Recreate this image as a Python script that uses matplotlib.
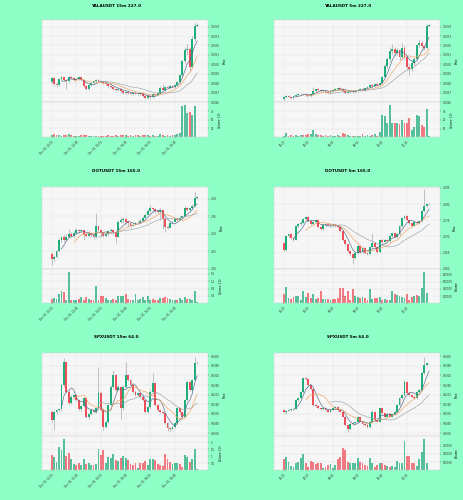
import numpy as np
import pandas as pd
import matplotlib
matplotlib.use('Agg')
import matplotlib.pyplot as plt
from matplotlib.ticker import MultipleLocator, FuncFormatter, FormatStrFormatter, MaxNLocator, FixedLocator

# ---------------- data ----------------
# YALAUSDT 15m
yala15_first_open = 0.00281
yala15_close = [0.00285, 0.00279, 0.00278, 0.00284, 0.00286, 0.00283, 0.00282, 0.00287, 0.00285, 0.00283,
                0.00284, 0.00286, 0.00283, 0.00277, 0.00274, 0.00278, 0.00280, 0.00282, 0.00283, 0.00282,
                0.00281, 0.00280, 0.00279, 0.00277, 0.00276, 0.00274, 0.00273, 0.00274, 0.00272, 0.00270,
                0.00271, 0.00270, 0.00268, 0.00270, 0.00269, 0.00268, 0.00270, 0.00266, 0.00264, 0.00266,
                0.00265, 0.00268, 0.00267, 0.00270, 0.00275, 0.00273, 0.00276, 0.00275, 0.00277, 0.00276,
                0.00278, 0.00281, 0.00289, 0.00303, 0.00315, 0.00316, 0.00297, 0.00327, 0.00341, 0.00342]
yala15_high = [0.00287, 0.00287, 0.00281, 0.00285, 0.00288, 0.00287, 0.00284, 0.00288, 0.00288, 0.00286,
               0.00285, 0.00287, 0.00287, 0.00284, 0.00278, 0.00279, 0.00281, 0.00283, 0.00284, 0.00284,
               0.00283, 0.00282, 0.00281, 0.00280, 0.00278, 0.00277, 0.00275, 0.00275, 0.00275, 0.00273,
               0.00272, 0.00272, 0.00271, 0.00271, 0.00271, 0.00270, 0.00271, 0.00271, 0.00267, 0.00267,
               0.00267, 0.00269, 0.00269, 0.00271, 0.00277, 0.00279, 0.00277, 0.00277, 0.00278, 0.00278,
               0.00279, 0.00282, 0.00290, 0.00305, 0.00318, 0.00322, 0.00318, 0.00330, 0.00344, 0.00344]
yala15_low = [0.00280, 0.00277, 0.00276, 0.00277, 0.00283, 0.00282, 0.00274, 0.00281, 0.00284, 0.00282,
              0.00282, 0.00283, 0.00282, 0.00276, 0.00273, 0.00273, 0.00277, 0.00279, 0.00281, 0.00281,
              0.00280, 0.00279, 0.00278, 0.00276, 0.00275, 0.00273, 0.00272, 0.00272, 0.00271, 0.00269,
              0.00269, 0.00268, 0.00267, 0.00267, 0.00268, 0.00267, 0.00267, 0.00265, 0.00263, 0.00263,
              0.00264, 0.00264, 0.00266, 0.00266, 0.00269, 0.00272, 0.00272, 0.00274, 0.00274, 0.00275,
              0.00275, 0.00277, 0.00280, 0.00288, 0.00301, 0.00310, 0.00292, 0.00296, 0.00325, 0.00340]
yala15_vol = [6.1e7, 8.4e7, 5.0e7, 7.2e7, 4.5e7, 6.8e7, 5.5e7, 9.0e7, 6.0e7, 4.2e7,
              3.8e7, 4.6e7, 5.1e7, 6.3e7, 5.8e7, 4.0e7, 3.5e7, 4.4e7, 3.9e7, 3.2e7,
              3.6e7, 4.1e7, 3.3e7, 4.8e7, 3.7e7, 4.5e7, 5.2e7, 3.4e7, 4.9e7, 5.6e7,
              6.2e7, 4.3e7, 5.0e7, 3.8e7, 4.7e7, 5.3e7, 4.0e7, 6.6e7, 7.4e7, 5.9e7,
              3.6e7, 6.8e7, 4.4e7, 3.9e7, 8.2e7, 5.5e7, 4.6e7, 6.0e7, 3.7e7, 5.1e7,
              6.4e7, 7.8e7, 1.2e8, 9.0e8, 9.2e8, 7.0e8, 7.2e8, 6.5e8, 9.0e8, 1.0e7]

# YALAUSDT 5m
yala5_first_open = 0.00263
yala5_close = [0.00265, 0.00266, 0.00265, 0.00264, 0.00266, 0.00267, 0.00268, 0.00269, 0.00268, 0.00267,
               0.00266, 0.00268, 0.00272, 0.00274, 0.00273, 0.00272, 0.00272, 0.00271, 0.00270, 0.00272,
               0.00273, 0.00274, 0.00275, 0.00274, 0.00272, 0.00270, 0.00271, 0.00272, 0.00271, 0.00272,
               0.00273, 0.00274, 0.00273, 0.00275, 0.00276, 0.00278, 0.00277, 0.00279, 0.00278, 0.00280,
               0.00287, 0.00298, 0.00306, 0.00314, 0.00316, 0.00312, 0.00315, 0.00308, 0.00317, 0.00308,
               0.00297, 0.00295, 0.00301, 0.00306, 0.00320, 0.00323, 0.00319, 0.00317, 0.00341, 0.00342]
yala5_high = [0.00266, 0.00267, 0.00267, 0.00266, 0.00267, 0.00268, 0.00269, 0.00270, 0.00270, 0.00269,
              0.00268, 0.00269, 0.00276, 0.00275, 0.00275, 0.00274, 0.00273, 0.00273, 0.00272, 0.00273,
              0.00274, 0.00275, 0.00276, 0.00276, 0.00275, 0.00273, 0.00272, 0.00273, 0.00273, 0.00273,
              0.00274, 0.00275, 0.00275, 0.00276, 0.00277, 0.00279, 0.00279, 0.00280, 0.00280, 0.00281,
              0.00288, 0.00300, 0.00308, 0.00318, 0.00322, 0.00318, 0.00317, 0.00316, 0.00323, 0.00319,
              0.00310, 0.00300, 0.00303, 0.00308, 0.00321, 0.00327, 0.00325, 0.00321, 0.00343, 0.00343]
yala5_low = [0.00262, 0.00264, 0.00264, 0.00263, 0.00263, 0.00265, 0.00266, 0.00267, 0.00267, 0.00266,
             0.00265, 0.00265, 0.00267, 0.00271, 0.00272, 0.00271, 0.00271, 0.00270, 0.00269, 0.00269,
             0.00271, 0.00272, 0.00273, 0.00273, 0.00271, 0.00269, 0.00269, 0.00270, 0.00270, 0.00270,
             0.00271, 0.00272, 0.00272, 0.00272, 0.00274, 0.00275, 0.00276, 0.00276, 0.00277, 0.00277,
             0.00279, 0.00285, 0.00296, 0.00304, 0.00311, 0.00309, 0.00310, 0.00305, 0.00306, 0.00306,
             0.00295, 0.00289, 0.00293, 0.00299, 0.00305, 0.00318, 0.00316, 0.00315, 0.00316, 0.00340]
yala5_vol = [2.0e7, 5.0e7, 1.5e7, 2.5e7, 1.2e7, 2.8e7, 1.8e7, 2.2e7, 3.0e7, 2.6e7,
             4.0e7, 3.5e7, 8.0e7, 3.8e7, 2.4e7, 3.1e7, 2.0e7, 2.7e7, 1.6e7, 2.3e7,
             1.4e7, 1.9e7, 2.1e7, 1.7e7, 4.5e7, 3.9e7, 2.9e7, 1.5e7, 1.3e7, 1.8e7,
             1.1e7, 2.0e7, 3.6e7, 1.6e7, 2.8e7, 1.9e7, 2.4e7, 3.3e7, 1.4e7, 6.0e7,
             2.6e8, 2.5e8, 1.7e8, 3.7e8, 1.7e8, 1.6e8, 1.6e8, 1.5e8, 2.0e8, 1.6e8,
             1.6e8, 2.2e8, 0.8e8, 1.2e8, 2.6e8, 2.4e8, 1.4e8, 1.2e8, 3.3e8, 1.0e7]

# DOTUSDT 15m
dot15_first_open = 2.017
dot15_close = [2.011, 2.014, 2.020, 2.033, 2.036, 2.033, 2.037, 2.040, 2.038, 2.041,
               2.045, 2.043, 2.044, 2.040, 2.038, 2.041, 2.039, 2.036, 2.049, 2.044,
               2.041, 2.038, 2.040, 2.043, 2.045, 2.042, 2.037, 2.054, 2.056, 2.057,
               2.054, 2.052, 2.049, 2.050, 2.052, 2.053, 2.055, 2.058, 2.062, 2.066,
               2.070, 2.068, 2.066, 2.065, 2.067, 2.057, 2.048, 2.047, 2.052, 2.054,
               2.057, 2.056, 2.058, 2.060, 2.070, 2.067, 2.069, 2.072, 2.081, 2.082]
dot15_high = [2.019, 2.016, 2.022, 2.035, 2.038, 2.039, 2.040, 2.046, 2.042, 2.043,
              2.047, 2.046, 2.046, 2.045, 2.041, 2.043, 2.042, 2.041, 2.064, 2.050,
              2.045, 2.042, 2.042, 2.045, 2.047, 2.046, 2.043, 2.056, 2.059, 2.059,
              2.058, 2.055, 2.053, 2.052, 2.054, 2.055, 2.057, 2.060, 2.064, 2.068,
              2.073, 2.071, 2.069, 2.067, 2.069, 2.068, 2.058, 2.050, 2.053, 2.056,
              2.058, 2.058, 2.060, 2.061, 2.072, 2.071, 2.070, 2.074, 2.089, 2.083]
dot15_low = [2.005, 2.009, 2.012, 2.019, 2.031, 2.031, 2.032, 2.035, 2.036, 2.037,
             2.040, 2.041, 2.042, 2.033, 2.036, 2.037, 2.037, 2.034, 2.035, 2.042,
             2.036, 2.036, 2.037, 2.039, 2.042, 2.040, 2.030, 2.036, 2.052, 2.053,
             2.051, 2.048, 2.047, 2.049, 2.051, 2.052, 2.054, 2.057, 2.061, 2.065,
             2.066, 2.065, 2.064, 2.064, 2.056, 2.046, 2.042, 2.046, 2.051, 2.053,
             2.055, 2.055, 2.057, 2.059, 2.059, 2.066, 2.066, 2.068, 2.071, 2.080]
dot15_vol = [2.4e5, 2.8e5, 2.4e5, 5.0e5, 6.8e5, 6.0e5, 2.0e5, 1.7e6, 2.0e5, 2.0e5,
             1.6e5, 2.5e5, 3.4e5, 2.0e5, 3.4e5, 2.5e5, 2.0e5, 1.6e5, 9.5e5, 1.6e5,
             3.8e5, 3.8e5, 2.9e5, 1.8e5, 1.6e5, 2.5e5, 2.0e5, 4.2e5, 4.2e5, 3.8e5,
             5.0e5, 2.5e5, 2.0e5, 1.8e5, 4.8e5, 2.0e5, 2.5e5, 3.4e5, 2.0e5, 4.2e5,
             2.0e5, 2.5e5, 1.6e5, 2.0e5, 3.0e5, 3.0e5, 3.4e5, 3.0e5, 2.5e5, 1.8e5,
             2.0e5, 1.6e5, 2.8e5, 2.0e5, 3.4e5, 2.2e5, 2.5e5, 1.8e5, 6.8e5, 5.0e4]

# DOTUSDT 5m
dot5_first_open = 2.0679
dot5_close = [2.0659, 2.0701, 2.0706, 2.0696, 2.0690, 2.0732, 2.0738, 2.0743, 2.0753, 2.0760,
              2.0748, 2.0738, 2.0745, 2.0750, 2.0730, 2.0722, 2.0735, 2.0738, 2.0735, 2.0738,
              2.0735, 2.0731, 2.0729, 2.0717, 2.0690, 2.0675, 2.0654, 2.0644, 2.0633, 2.0650,
              2.0670, 2.0652, 2.0665, 2.0650, 2.0646, 2.0668, 2.0680, 2.0668, 2.0652, 2.0690,
              2.0684, 2.0690, 2.0685, 2.0701, 2.0711, 2.0698, 2.0706, 2.0732, 2.0758, 2.0763,
              2.0750, 2.0740, 2.0733, 2.0746, 2.0740, 2.0748, 2.0779, 2.0795, 2.0800, 2.0801]
dot5_high = [2.0683, 2.0704, 2.0709, 2.0709, 2.0699, 2.0735, 2.0741, 2.0747, 2.0756, 2.0764,
             2.0763, 2.0750, 2.0748, 2.0753, 2.0752, 2.0733, 2.0738, 2.0741, 2.0740, 2.0741,
             2.0740, 2.0737, 2.0733, 2.0731, 2.0719, 2.0692, 2.0677, 2.0657, 2.0646, 2.0653,
             2.0673, 2.0672, 2.0668, 2.0667, 2.0652, 2.0671, 2.0711, 2.0683, 2.0670, 2.0693,
             2.0692, 2.0693, 2.0692, 2.0703, 2.0714, 2.0713, 2.0709, 2.0735, 2.0761, 2.0766,
             2.0765, 2.0752, 2.0743, 2.0749, 2.0748, 2.0751, 2.0782, 2.0847, 2.0803, 2.0803]
dot5_low = [2.0655, 2.0656, 2.0698, 2.0693, 2.0687, 2.0688, 2.0729, 2.0735, 2.0740, 2.0750,
            2.0745, 2.0735, 2.0736, 2.0743, 2.0727, 2.0719, 2.0720, 2.0733, 2.0732, 2.0733,
            2.0732, 2.0728, 2.0726, 2.0714, 2.0687, 2.0672, 2.0651, 2.0640, 2.0613, 2.0630,
            2.0647, 2.0649, 2.0649, 2.0647, 2.0643, 2.0644, 2.0665, 2.0665, 2.0649, 2.0650,
            2.0681, 2.0682, 2.0682, 2.0683, 2.0698, 2.0695, 2.0695, 2.0703, 2.0729, 2.0755,
            2.0747, 2.0737, 2.0730, 2.0731, 2.0737, 2.0738, 2.0745, 2.0776, 2.0792, 2.0798]
dot5_vol = [268e3, 454e3, 141e3, 122e3, 161e3, 190e3, 190e3, 93e3, 356e3, 161e3,
            288e3, 141e3, 259e3, 122e3, 141e3, 337e3, 122e3, 112e3, 122e3, 93e3,
            112e3, 122e3, 141e3, 415e3, 415e3, 190e3, 337e3, 93e3, 385e3, 210e3,
            161e3, 141e3, 161e3, 141e3, 93e3, 385e3, 122e3, 141e3, 141e3, 161e3,
            93e3, 122e3, 93e3, 93e3, 356e3, 259e3, 239e3, 190e3, 161e3, 141e3,
            259e3, 93e3, 161e3, 190e3, 239e3, 210e3, 415e3, 873e3, 288e3, 20e3]

# SPXUSDT 15m
spx15_first_open = 0.6112
spx15_close = [0.6069, 0.6110, 0.6121, 0.6124, 0.6250, 0.6367, 0.6216, 0.6155, 0.6190, 0.6198,
               0.6172, 0.6124, 0.6140, 0.6181, 0.6083, 0.6100, 0.6121, 0.6112, 0.6129, 0.6207,
               0.6121, 0.6034, 0.6060, 0.6147, 0.6241, 0.6302, 0.6224, 0.6241, 0.6129, 0.6241,
               0.6302, 0.6276, 0.6250, 0.6216, 0.6198, 0.6207, 0.6190, 0.6172, 0.6112, 0.6138,
               0.6216, 0.6259, 0.6147, 0.6121, 0.6112, 0.6105, 0.6052, 0.6026, 0.6022, 0.6034,
               0.6052, 0.6129, 0.6112, 0.6083, 0.6172, 0.6267, 0.6224, 0.6276, 0.6362, 0.6366]
spx15_high = [0.6121, 0.6116, 0.6128, 0.6130, 0.6258, 0.6388, 0.6372, 0.6222, 0.6196, 0.6204,
              0.6205, 0.6178, 0.6146, 0.6188, 0.6186, 0.6107, 0.6127, 0.6127, 0.6135, 0.6345,
              0.6212, 0.6127, 0.6066, 0.6153, 0.6248, 0.6328, 0.6308, 0.6248, 0.6247, 0.6248,
              0.6370, 0.6308, 0.6282, 0.6256, 0.6222, 0.6213, 0.6213, 0.6196, 0.6178, 0.6144,
              0.6222, 0.6310, 0.6264, 0.6153, 0.6127, 0.6118, 0.6111, 0.6058, 0.6032, 0.6040,
              0.6058, 0.6135, 0.6135, 0.6118, 0.6178, 0.6273, 0.6272, 0.6282, 0.6396, 0.6372]
spx15_low = [0.6060, 0.6017, 0.6102, 0.6115, 0.6118, 0.6242, 0.6210, 0.6148, 0.6150, 0.6184,
             0.6166, 0.6118, 0.6117, 0.6134, 0.6077, 0.6076, 0.6094, 0.6105, 0.6106, 0.6122,
             0.6115, 0.6017, 0.6028, 0.6054, 0.6140, 0.6235, 0.6218, 0.6218, 0.6072, 0.6122,
             0.6235, 0.6270, 0.6244, 0.6210, 0.6192, 0.6192, 0.6184, 0.6166, 0.6105, 0.6106,
             0.6132, 0.6210, 0.6141, 0.6115, 0.6106, 0.6099, 0.6046, 0.6012, 0.6010, 0.6016,
             0.6028, 0.6046, 0.6106, 0.6077, 0.6077, 0.6166, 0.6218, 0.6218, 0.6270, 0.6360]
spx15_vol = [108000, 91200, 60000, 163200, 144000, 220800, 100800, 124800, 76800, 43200,
             36000, 55200, 40800, 76800, 48000, 52800, 36000, 36000, 43200, 151200,
             108000, 144000, 55200, 91200, 88800, 115200, 72000, 64800, 84000, 100800,
             88800, 72000, 43200, 36000, 55200, 19200, 55200, 55200, 64800, 36000,
             76800, 76800, 72000, 43200, 40800, 31200, 112800, 79200, 60000, 48000,
             55200, 52800, 43200, 24000, 108000, 91200, 60000, 76800, 148800, 7200]

# SPXUSDT 5m
spx5_first_open = 0.6121
spx5_close = [0.6112, 0.6117, 0.6121, 0.6124, 0.6128, 0.6172, 0.6181, 0.6216, 0.6288, 0.6279,
              0.6250, 0.6229, 0.6147, 0.6141, 0.6129, 0.6124, 0.6129, 0.6121, 0.6112, 0.6121,
              0.6129, 0.6138, 0.6121, 0.6112, 0.6086, 0.6043, 0.6021, 0.6047, 0.6052, 0.6060,
              0.6083, 0.6060, 0.6047, 0.6043, 0.6034, 0.6060, 0.6112, 0.6069, 0.6060, 0.6129,
              0.6103, 0.6086, 0.6100, 0.6086, 0.6100, 0.6112, 0.6147, 0.6181, 0.6198, 0.6267,
              0.6207, 0.6198, 0.6190, 0.6181, 0.6216, 0.6224, 0.6310, 0.6353, 0.6362, 0.6363]
spx5_high = [0.6126, 0.6120, 0.6124, 0.6127, 0.6131, 0.6176, 0.6186, 0.6220, 0.6293, 0.6292,
             0.6283, 0.6254, 0.6233, 0.6150, 0.6145, 0.6132, 0.6133, 0.6134, 0.6125, 0.6125,
             0.6133, 0.6142, 0.6142, 0.6125, 0.6116, 0.6090, 0.6047, 0.6052, 0.6056, 0.6064,
             0.6088, 0.6087, 0.6064, 0.6051, 0.6047, 0.6064, 0.6121, 0.6116, 0.6073, 0.6134,
             0.6133, 0.6107, 0.6104, 0.6103, 0.6104, 0.6116, 0.6151, 0.6186, 0.6203, 0.6276,
             0.6272, 0.6212, 0.6203, 0.6194, 0.6220, 0.6229, 0.6315, 0.6397, 0.6366, 0.6366]
spx5_low = [0.6107, 0.6100, 0.6113, 0.6118, 0.6121, 0.6124, 0.6168, 0.6177, 0.6211, 0.6275,
            0.6246, 0.6225, 0.6143, 0.6137, 0.6125, 0.6120, 0.6120, 0.6117, 0.6108, 0.6108,
            0.6117, 0.6125, 0.6117, 0.6108, 0.6082, 0.6039, 0.6005, 0.6017, 0.6043, 0.6048,
            0.6056, 0.6056, 0.6043, 0.6039, 0.6030, 0.6030, 0.6056, 0.6065, 0.6056, 0.6056,
            0.6099, 0.6082, 0.6082, 0.6082, 0.6082, 0.6096, 0.6108, 0.6143, 0.6177, 0.6194,
            0.6203, 0.6194, 0.6186, 0.6177, 0.6177, 0.6212, 0.6220, 0.6306, 0.6349, 0.6360]
spx5_vol = [206000, 238000, 156000, 75000, 50000, 125000, 156000, 219000, 300000, 125000,
            62000, 175000, 156000, 112000, 125000, 125000, 44000, 62000, 94000, 106000,
            44000, 94000, 200000, 238000, 406000, 375000, 156000, 125000, 125000, 138000,
            219000, 156000, 138000, 94000, 75000, 219000, 138000, 62000, 94000, 138000,
            125000, 94000, 75000, 62000, 75000, 62000, 169000, 125000, 125000, 531000,
            269000, 269000, 125000, 125000, 81000, 213000, 338000, 575000, 125000, 12000]

start_15m = '2025-12-01 20:15'
start_5m = '2025-12-02 06:20'
mav_windows = [5, 10, 20]

# ---------------- style ----------------
BG = '#8effc7'
UP = '#1fae7a'
DOWN = '#ef4f5b'
MAV_COLORS = ['#56688a', '#f2a35e', '#9aa5a5']
FS = 1.9

fig = plt.figure(figsize=(4.64, 5.0), dpi=100, facecolor=BG)

col_x = [42 / 464, 274 / 464]
col_w = 166 / 464
title_x = [116 / 464, 348 / 464]
# (price bottom, price height, volume bottom, volume height, title y)
rows = [(1 - 102 / 500, 82 / 500, 1 - 137 / 500, 35 / 500, 1 - 6 / 500),
        (1 - 269 / 500, 82 / 500, 1 - 303 / 500, 34 / 500, 1 - 171 / 500),
        (1 - 436 / 500, 83 / 500, 1 - 470 / 500, 34 / 500, 1 - 337 / 500)]


def draw_panel(row, col, title, start, freq, date_fmt, first_open, closes, highs, lows, vols,
               ylim, ystep, yfmt, vol_exp):
    pb, ph, vb, vh, ty = rows[row]
    ax = fig.add_axes([col_x[col], pb, col_w, ph])
    axv = fig.add_axes([col_x[col], vb, col_w, vh], sharex=ax)
    fig.text(title_x[col], ty, title, ha='center', va='center', fontsize=3, fontweight='bold')

    n = len(closes)
    x = np.arange(n)
    c = np.array(closes)
    o = np.array([first_open] + closes[:-1])
    colors = np.where(c >= o, UP, DOWN)
    times = pd.date_range(start, periods=n, freq=freq)

    for a in (ax, axv):
        a.set_facecolor('#f6f6f6')
        a.grid(True, color='#dedede', lw=0.3)
        a.set_axisbelow(True)
        for s in a.spines.values():
            s.set_color('#cfcfcf')
            s.set_linewidth(0.3)
        a.yaxis.tick_right()
        a.yaxis.set_label_position('right')
        a.tick_params(labelsize=FS, length=1, width=0.3, pad=1, colors='#333333')

    # candles
    body = np.maximum(np.abs(c - o), (ylim[1] - ylim[0]) * 0.003)
    ax.vlines(x, lows, highs, color='#969696', lw=0.4, zorder=2)
    ax.bar(x, body, bottom=np.minimum(o, c), width=0.75, color=colors, lw=0, zorder=3)
    s = pd.Series(c)
    for w, mc in zip(mav_windows, MAV_COLORS):
        ax.plot(x, s.rolling(w).mean(), color=mc, lw=0.45, zorder=4)

    ax.set_ylim(*ylim)
    ax.yaxis.set_major_locator(MultipleLocator(ystep))
    ax.yaxis.set_major_formatter(FormatStrFormatter(yfmt))
    ax.set_ylabel('Price', fontsize=FS, labelpad=2)
    ax.tick_params(axis='x', labelbottom=False)

    # volume
    axv.bar(x, vols, width=0.75, color=colors, alpha=0.75, lw=0)
    vlo, vhi = 0.3 * min(vols), 1.1 * max(vols)
    axv.set_ylim(vlo, vhi)
    vt = MaxNLocator(nbins=5).tick_values(vlo, vhi)
    axv.yaxis.set_major_locator(FixedLocator([t for t in vt if vlo < t <= 0.88 * vhi]))
    if vol_exp:
        scale = 10 ** vol_exp
        axv.yaxis.set_major_formatter(FuncFormatter(lambda v, p: f'{v / scale:g}'))
        axv.set_ylabel('Volume  $10^{%d}$' % vol_exp, fontsize=FS, labelpad=2)
    else:
        axv.yaxis.set_major_formatter(FuncFormatter(lambda v, p: f'{v:.0f}'))
        axv.set_ylabel('Volume', fontsize=FS, labelpad=2)

    ticks = list(range(0, n, 10))
    axv.set_xticks(ticks)
    axv.set_xticklabels([times[i].strftime(date_fmt) for i in ticks], rotation=45,
                        ha='right', rotation_mode='anchor')
    axv.set_xlim(-3.9, n + 3.4)


draw_panel(0, 0, 'YALAUSDT 15m 227.0', start_15m, '15min', '%b %d, %H:%M', yala15_first_open,
           yala15_close, yala15_high, yala15_low, yala15_vol, (0.0026, 0.00347), 0.0001, '%.4f', 7)
draw_panel(0, 1, 'YALAUSDT 5m 227.0', start_5m, '5min', '%H:%M', yala5_first_open,
           yala5_close, yala5_high, yala5_low, yala5_vol, (0.0026, 0.00347), 0.0001, '%.4f', 7)
draw_panel(1, 0, 'DOTUSDT 15m 165.0', start_15m, '15min', '%b %d, %H:%M', dot15_first_open,
           dot15_close, dot15_high, dot15_low, dot15_vol, (2.0, 2.0935), 0.02, '%.2f', 6)
draw_panel(1, 1, 'DOTUSDT 5m 165.0', start_5m, '5min', '%H:%M', dot5_first_open,
           dot5_close, dot5_high, dot5_low, dot5_vol, (2.0599, 2.0853), 0.005, '%.3f', 0)
draw_panel(2, 0, 'SPXUSDT 15m 64.0', start_15m, '15min', '%b %d, %H:%M', spx15_first_open,
           spx15_close, spx15_high, spx15_low, spx15_vol, (0.5986, 0.6416), 0.005, '%.4f', 5)
draw_panel(2, 1, 'SPXUSDT 5m 64.0', start_5m, '5min', '%H:%M', spx5_first_open,
           spx5_close, spx5_high, spx5_low, spx5_vol, (0.5986, 0.6416), 0.005, '%.4f', 0)

fig.savefig('out.png', dpi=100, facecolor=BG)
